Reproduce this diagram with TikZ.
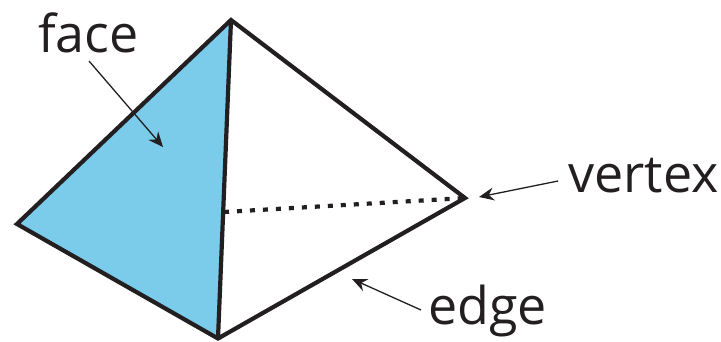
\documentclass[tikz,border=0pt]{standalone}
\usepackage{fontspec}
\setmainfont{Open Sans}
\usetikzlibrary{arrows.meta}
\definecolor{facefill}{HTML}{7BCBEB}
\definecolor{ink}{HTML}{231F20}
\tikzset{
  px/.style={x=1pt,y=-1pt},
  edgeline/.style={draw=ink,line width=4.2pt,line join=miter},
  hidden/.style={draw=ink,line width=4.2pt,dash pattern=on 5pt off 8pt},
  pointer/.style={draw=ink,line width=1.3pt,-{Stealth[length=15pt,width=13pt,inset=5pt]}},
  lbl/.style={font=\fontsize{52}{56}\selectfont,text=ink,inner sep=0pt,anchor=base west},
}
\begin{document}
\begin{tikzpicture}[px]
\useasboundingbox (0,0) rectangle (721,341);
\coordinate (T) at (231,20);
\coordinate (L) at (17,224);
\coordinate (B) at (218,338.5);
\coordinate (R) at (465,198);
\coordinate (M) at (224,212);
\fill[facefill] (T)--(L)--(B)--cycle;
\draw[hidden] (M)--(R);
\draw[edgeline] (T)--(L)--(B)--(R)--cycle;
\draw[edgeline] (T)--(B);
\node[lbl] (face) at (38,52) {face};
\node[lbl] (vertex) at (568,192) {vertex};
\node[lbl] (edge) at (428,324) {edge};
\coordinate (fa) at (89,61);
\coordinate (fb) at (163,147);
\coordinate (va) at (558,181);
\coordinate (vb) at (479,197);
\coordinate (ea) at (421,310);
\coordinate (eb) at (352,279);
\draw[pointer] (fa)--(fb);
\draw[pointer] (va)--(vb);
\draw[pointer] (ea)--(eb);
\end{tikzpicture}
\end{document}
